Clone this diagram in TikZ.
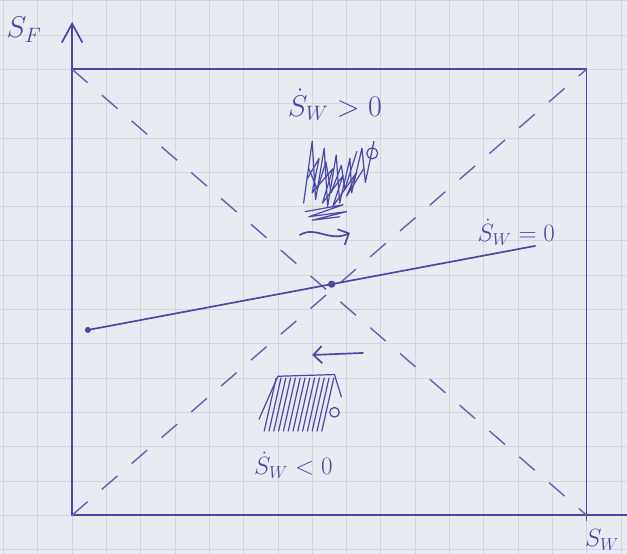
\documentclass[tikz,border=0pt]{standalone}
\usepackage{xcolor}
\usepackage{tikz}
\usetikzlibrary{arrows.meta,calc}
\definecolor{InkBlue}{HTML}{4B47A6}
\definecolor{PaperGrey}{HTML}{E8EBF2}
\definecolor{GridGrey}{HTML}{D0D5DE}

\begin{document}
\begin{tikzpicture}[
    x=1cm, y=-1cm,
    ink/.style={draw=InkBlue, line width=1.4pt, line cap=round, line join=round},
    diag/.style={draw=InkBlue!85, line width=1.2pt, dash pattern=on 0.6cm off 0.55cm},
    gridline/.style={draw=GridGrey, line width=0.6pt},
    label/.style={text=InkBlue, font=\fontsize{24}{28}\selectfont, inner sep=0pt},
    flow/.style={ink, -{Straight Barb[length=2.5mm, width=5mm]}},
    scribble/.style={draw=InkBlue, line width=1pt, line join=round, line cap=round}
  ]
    % paper
    \useasboundingbox (-0.102,-0.020) rectangle (18.178,16.131);
    \fill[PaperGrey] (-0.102,-0.020) rectangle (18.178,16.131);
    \foreach \gx in {0,...,18} \draw[gridline] (\gx,-0.02) -- (\gx,16.131);
    \foreach \gy in {0,...,16} \draw[gridline] (-0.102,\gy) -- (18.178,\gy);

    % box and axes
    \coordinate (nw) at (2,2);
    \coordinate (ne) at (17,2);
    \coordinate (sw) at (2,15);
    \coordinate (se) at (17,15);
    \coordinate (ytip) at (2,0.62);
    \coordinate (xend) at (18.2,15);
    \coordinate (selow) at (17,15.15);
    \draw[ink, -{Straight Barb[length=5.5mm, width=6mm]}] (sw) -- (ytip);
    \draw[ink] (sw) -- (xend);
    \draw[ink] (nw) -- (ne) -- (selow);
    \draw[diag] (nw) -- (se);
    \draw[diag] (sw) -- (ne);

    % nullcline
    \coordinate (lstart) at (2.46,9.60);
    \coordinate (lend) at (15.5,7.15);
    \coordinate (eq) at ($(lstart)!0.545!(lend)$);
    \draw[ink] (lstart) -- (lend);
    \fill[InkBlue] (lstart) circle (2.5pt);
    \fill[InkBlue] (eq) circle (3pt);

    % labels
    \node[label] (yl) at (0.6,0.85) {$S_F$};
    \node[label, font=\fontsize{21}{25}\selectfont] (xl) at (17.45,15.72) {$S_W$};
    \node[label, font=\fontsize{26}{30}\selectfont] (up) at (9.66,3.04) {$\dot S_W > 0$};
    \node[label, font=\fontsize{21}{25}\selectfont] (null) at (14.95,6.74) {$\dot S_W = 0$};
    \node[label, font=\fontsize{21}{25}\selectfont] (down) at (8.45,13.54) {$\dot S_W < 0$};

    % direction arrows
    \coordinate (ra) at (8.64,6.83);
    \coordinate (rb) at (10.1,6.77);
    \coordinate (la) at (10.48,10.27);
    \coordinate (lb) at (9.0,10.33);
    \draw[flow] (ra) .. controls (9.1,6.55) and (9.5,7.05) .. (rb);
    \draw[flow] (la) -- (lb);

    % crossed-out text above
    \draw[scribble] (8.75,5.9) -- (9.0,4.1) -- (9.1,5.8) -- (9.35,4.3) -- (9.45,6.0)
      -- (9.7,4.5) -- (9.8,5.9) -- (10.1,4.6) -- (10.15,5.6) -- (10.45,4.3)
      -- (10.55,5.3) -- (10.8,4.1);
    \draw[scribble] (8.85,5.2) -- (9.2,4.6) -- (9.0,5.6) -- (9.6,4.9) -- (9.3,5.9)
      -- (9.9,5.1) -- (9.6,6.0) -- (10.3,5.0) -- (10.0,5.7) -- (10.5,4.9);
    \draw[scribble] (8.9,4.9) -- (9.15,5.5) -- (9.4,4.7) -- (9.55,5.6) -- (9.85,4.8)
      -- (9.95,5.5) -- (10.3,4.4);
    \draw[scribble] (8.8,6.15) -- (9.9,5.95) -- (8.9,6.3) -- (10.0,6.15) -- (9.0,6.4)
      -- (9.8,6.3);
    \draw[scribble] (10.75,4.45) circle (0.16);

    % crossed-out text below
    \draw[scribble] (8.0,10.95) -- (9.65,10.9) -- (9.85,11.55);
    \draw[scribble] (8.0,10.95) -- (7.45,12.2);
    \foreach \i in {0,...,12}
      \draw[scribble] ($(7.95,11.0)+(\i*0.14,0)$) -- ++(-0.35,1.55);
    \draw[scribble] (9.65,12.0) circle (0.14);
  \end{tikzpicture}
\end{document}
